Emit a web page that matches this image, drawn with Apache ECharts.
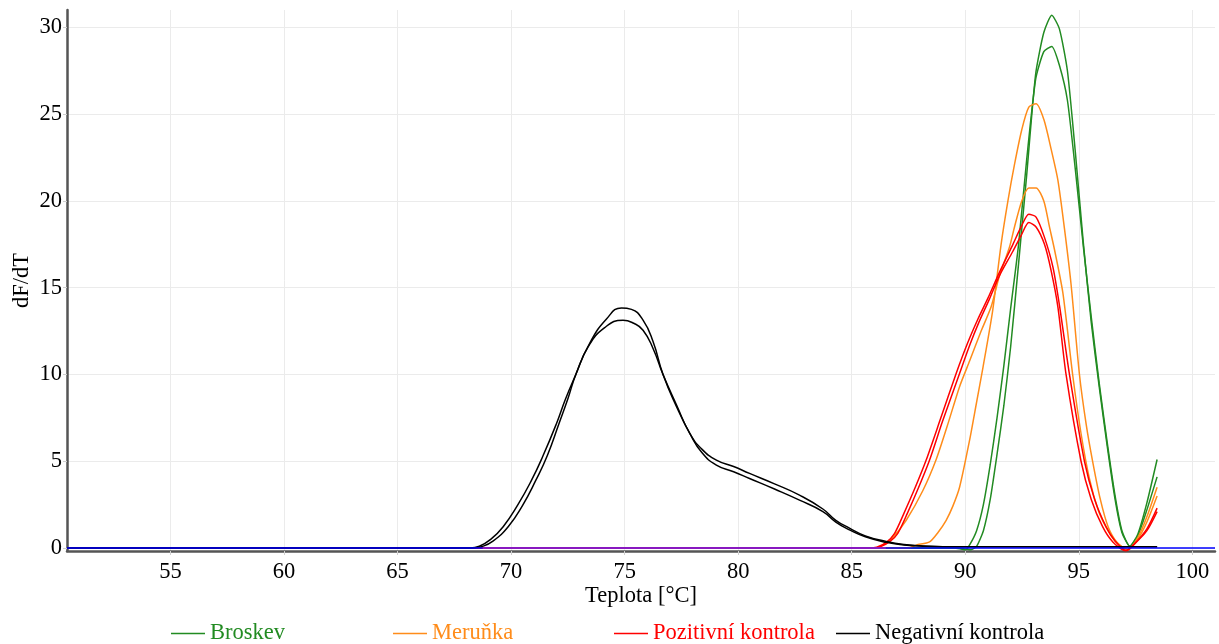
<!DOCTYPE html>
<html>
<head>
<meta charset="utf-8">
<script src="https://cdn.jsdelivr.net/npm/echarts@6/dist/echarts.min.js"></script>
<style>
  html, body { margin: 0; padding: 0; background: #fff; }
  #chart { width: 1219px; height: 644px; }
</style>
</head>
<body>
<div id="chart"></div>
<script>
// Melt curves, derivative dF/dT against temperature [°C]; each pair = [teplota, dF/dT]
const broskevA = [[50.44,0],[89.6,0],[90.0,-0.05],[90.25,-0.1],[90.5,0.1],[90.8,1.0],[91.1,2.8],[91.4,5.4],[91.7,8.2],[92.0,11.6],[92.35,16.4],[92.7,21.4],[93.1,27.3],[93.46,29.7],[93.81,30.7],[94.15,29.9],[94.5,27.5],[94.85,22.8],[95.2,17.6],[95.55,13.0],[95.9,9.3],[96.25,5.9],[96.6,2.8],[96.9,0.9],[97.25,0.1],[97.6,0.8],[98.0,2.6],[98.45,5.1]];
const broskevB = [[50.44,0],[89.5,0],[89.8,-0.05],[90.0,-0.1],[90.2,0.2],[90.5,1.0],[90.8,2.5],[91.1,4.8],[91.4,7.5],[91.7,10.5],[92.0,13.8],[92.35,17.5],[92.7,22.3],[93.1,27.0],[93.46,28.6],[93.81,28.9],[94.15,27.8],[94.5,25.8],[94.85,21.8],[95.2,17.4],[95.55,13.3],[95.9,9.5],[96.25,6.1],[96.6,3.0],[96.9,1.0],[97.25,0.1],[97.6,0.7],[98.0,2.2],[98.45,4.1]];

const merunkaA = [[50.44,0],[87.5,0],[87.84,0.17],[88.43,0.36],[88.8,0.9],[89.16,1.6],[89.45,2.4],[89.75,3.5],[90.19,6.2],[90.5,8.4],[90.78,10.4],[91.21,13.7],[91.58,17.5],[91.88,20.0],[92.17,22.1],[92.49,24.1],[92.8,25.4],[93.12,25.6],[93.46,24.7],[93.78,23.0],[94.08,21.2],[94.37,18.4],[94.66,15.2],[95.03,10.0],[95.33,7.1],[95.61,5.0],[95.95,2.8],[96.3,1.2],[96.7,0.3],[97.16,-0.1],[97.6,0.6],[98.0,1.8],[98.45,3.5]];
const merunkaB = [[50.44,0],[86.0,0],[86.23,0.07],[86.8,0.6],[87.4,1.6],[88.13,3.3],[88.72,5.1],[89.2,7.0],[89.75,9.3],[90.2,10.8],[90.7,12.5],[91.14,13.9],[91.51,15.7],[91.95,17.35],[92.17,18.5],[92.49,20.0],[92.8,20.75],[93.12,20.75],[93.46,20.0],[93.71,18.5],[93.93,17.2],[94.3,14.7],[94.73,10.0],[95.1,6.6],[95.47,4.0],[95.85,2.2],[96.2,1.2],[96.6,0.4],[97.16,-0.1],[97.6,0.5],[98.0,1.5],[98.45,3.0]];

const pozitivniA = [[50.44,0],[85.8,0],[86.1,0.05],[86.5,0.3],[86.89,0.85],[87.3,2.0],[87.8,3.5],[88.28,5.07],[88.9,7.4],[89.6,10.06],[90.1,11.8],[90.56,13.2],[91.0,14.4],[91.51,15.9],[92.1,17.5],[92.46,18.5],[92.8,19.23],[93.12,19.07],[93.49,17.9],[93.86,16.2],[94.16,13.9],[94.59,10.0],[95.25,5.0],[95.7,2.8],[96.2,1.23],[96.6,0.4],[97.1,-0.15],[97.5,0.3],[98.0,1.1],[98.45,2.3]];
const pozitivniB = [[50.44,0],[86.0,0],[86.3,0.1],[86.7,0.4],[87.03,0.85],[87.45,2.0],[87.95,3.5],[88.43,5.07],[89.0,7.3],[89.75,10.06],[90.2,11.7],[90.6,13.0],[91.05,14.3],[91.51,15.7],[92.1,17.1],[92.46,18.0],[92.8,18.75],[93.12,18.5],[93.49,17.5],[93.78,16.0],[94.08,13.9],[94.44,10.0],[95.1,5.0],[95.55,2.8],[96.05,1.23],[96.5,0.35],[97.05,-0.15],[97.5,0.3],[98.0,1.0],[98.45,2.1]];

const negativniA = [[50.44,0],[68.3,0],[68.7,0.08],[69.2,0.4],[69.87,1.23],[70.5,2.45],[71.09,3.91],[71.6,5.35],[72.11,7.18],[72.5,8.6],[72.85,10.0],[73.46,11.8],[74.2,13.2],[74.86,13.83],[75.3,13.75],[75.81,13.13],[76.25,11.9],[76.69,10.0],[77.3,8.1],[77.87,6.6],[78.4,5.5],[79.04,4.78],[79.8,4.4],[80.5,4.01],[81.6,3.4],[82.7,2.76],[83.73,2.1],[84.3,1.5],[84.9,1.05],[85.6,0.65],[86.52,0.33],[87.3,0.18],[88.0,0.12],[89.0,0.08],[98.45,0.07]];
const negativniB = [[50.44,0],[68.2,0],[68.6,0.1],[69.1,0.5],[69.65,1.23],[70.3,2.5],[70.9,3.91],[71.4,5.3],[72.0,7.18],[72.4,8.6],[72.85,10.0],[73.39,11.59],[74.12,12.7],[74.93,13.13],[75.4,12.95],[75.81,12.55],[76.25,11.5],[76.69,10.0],[77.3,8.2],[77.87,6.6],[78.4,5.7],[79.04,5.07],[79.8,4.7],[80.5,4.3],[81.6,3.7],[82.7,3.05],[83.73,2.25],[84.3,1.6],[84.9,1.15],[85.6,0.7],[86.52,0.38],[87.3,0.2],[88.0,0.13],[89.0,0.08],[98.45,0.07]];

// Baseline traces at zero
const zakladniLinie = [[50.44,0],[101,0]];
const fialovaLinie = [[68.75,0],[86.5,0]];

// Axis ranges and tick spacing
const xRange = [50.44, 101];
const yRange = [-0.17, 31];
const tickStep = 5;

const groups = [
  { name: 'Broskev',             color: '#228b22', data: [broskevA, broskevB],     smooth: 0.2, legendLeft: 171 },
  { name: 'Meruňka',             color: '#ff8c1a', data: [merunkaA, merunkaB],     smooth: 0.25, legendLeft: 393 },
  { name: 'Pozitivní kontrola',  color: '#ff0000', data: [pozitivniA, pozitivniB], smooth: 0.25, legendLeft: 614 },
  { name: 'Negativní kontrola',  color: '#000000', data: [negativniA, negativniB], smooth: 0.5, legendLeft: 836 }
];

const FONT = '"Liberation Serif", "Times New Roman", serif';
const FS = 22.5;

const series = [];
groups.forEach(g => {
  g.data.forEach(d => {
    series.push({
      name: g.name,
      type: 'line',
      data: d,
      showSymbol: false,
      symbol: 'none',
      smooth: g.smooth,
      lineStyle: { color: g.color, width: 1.5 },
      itemStyle: { color: g.color },
      emphasis: { disabled: true }
    });
  });
});
series.push({
  name: 'zaklad', type: 'line', data: zakladniLinie, symbol: 'none',
  lineStyle: { color: '#0000ff', width: 1.5 }, emphasis: { disabled: true }, z: 3
});
series.push({
  name: 'fialova', type: 'line', data: fialovaLinie, symbol: 'none',
  lineStyle: { color: '#a020c0', width: 1.5 }, emphasis: { disabled: true }, z: 3
});

const legends = groups.map(g => ({
  data: [g.name],
  left: g.legendLeft,
  top: 622,
  icon: 'rect',
  itemWidth: 34,
  itemHeight: 1.5,
  selectedMode: false,
  padding: 0,
  textStyle: { color: g.color, fontFamily: FONT, fontSize: FS }
}));

const chart = echarts.init(document.getElementById('chart'), null, { renderer: 'canvas' });
chart.setOption({
  animation: false,
  backgroundColor: '#ffffff',
  grid: { left: 67, right: 4, top: 10, bottom: 93, containLabel: false, outerBoundsMode: 'none' },
  legend: legends,
  xAxis: {
    type: 'value',
    min: xRange[0], max: xRange[1],
    splitNumber: 10,
    minInterval: tickStep, maxInterval: tickStep,
    name: 'Teplota [°C]',
    nameLocation: 'middle',
    nameGap: 34,
    nameMoveOverlap: false,
    nameTextStyle: { color: '#000', fontFamily: FONT, fontSize: FS },
    axisLine: { onZero: false, lineStyle: { color: '#555', width: 2.5 } },
    axisTick: { show: true, length: 4, lineStyle: { color: '#d0d0d0' } },
    axisLabel: { showMinLabel: false, showMaxLabel: false, color: '#000', fontFamily: FONT, fontSize: FS, margin: 10 },
    splitLine: { show: true, showMinLine: false, showMaxLine: false, lineStyle: { color: '#ebebeb', width: 1 } }
  },
  yAxis: {
    type: 'value',
    min: yRange[0], max: yRange[1],
    splitNumber: 6,
    minInterval: tickStep, maxInterval: tickStep,
    name: 'dF/dT',
    nameLocation: 'middle',
    nameGap: 33,
    nameRotate: 90,
    nameMoveOverlap: false,
    nameTextStyle: { color: '#000', fontFamily: FONT, fontSize: FS },
    axisLine: { show: true, onZero: false, lineStyle: { color: '#555', width: 2.5 } },
    axisTick: { show: true, length: 4, lineStyle: { color: '#d0d0d0' } },
    axisLabel: { showMinLabel: false, showMaxLabel: false, color: '#000', fontFamily: FONT, fontSize: FS, margin: 5 },
    splitLine: { show: true, showMinLine: false, showMaxLine: false, lineStyle: { color: '#ebebeb', width: 1 } }
  },
  series: series
});
</script>
</body>
</html>
